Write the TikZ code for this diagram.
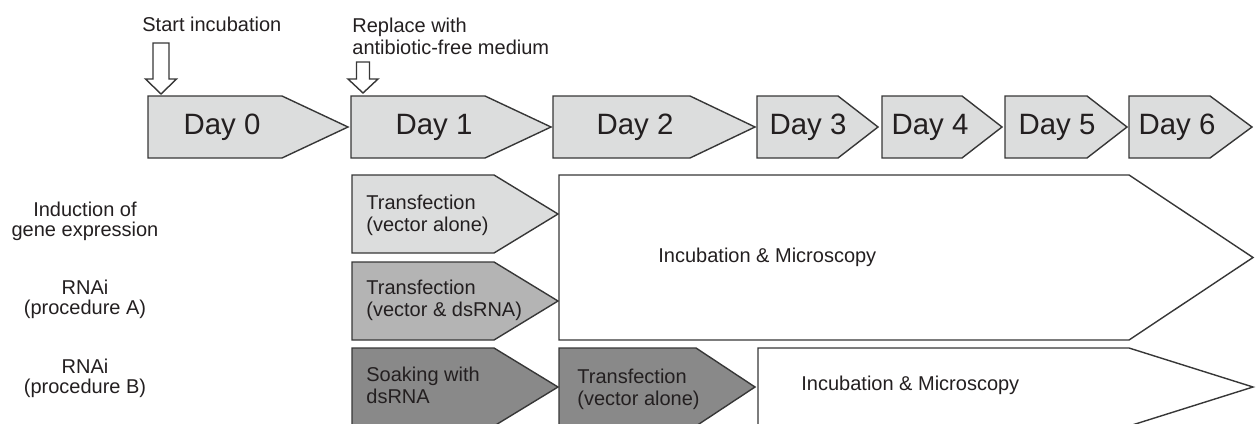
\documentclass[tikz,border=0pt]{standalone}
\usepackage{fontspec}
\setmainfont{Liberation Sans}
\usepackage{xcolor}
\usepackage{tikz}
\usetikzlibrary{positioning}

\definecolor{daygray}{RGB}{220,221,221}
\definecolor{midgray}{RGB}{180,180,180}
\definecolor{soakgray}{RGB}{137,137,137}
\definecolor{edgegray}{RGB}{55,55,55}
\definecolor{inkgray}{RGB}{35,31,32}

\tikzset{
  stepbox/.style={draw=edgegray, line width=0.7pt, line join=miter},
  daytext/.style={font=\fontsize{14.7}{17}\selectfont, text=inkgray, inner sep=0pt},
  boxtext/.style={font=\fontsize{10}{11}\selectfont, text=inkgray, align=left, anchor=west, inner sep=0pt},
  rowlabel/.style={font=\fontsize{10}{10}\selectfont, text=inkgray, align=center, inner sep=0pt},
}

% left x, flat end x, tip x, top y, bottom y, fill
\newcommand{\pentabox}[6]{%
  \draw[stepbox, fill=#6] (#1,#4) -- (#2,#4) -- (#3,{(#4+#5)/2}) -- (#2,#5) -- (#1,#5) -- cycle;}

\begin{document}
\begin{tikzpicture}[x=0.5pt, y=-0.5pt]
        \useasboundingbox (0,0) rectangle (1258,423);
        \clip (0,0) rectangle (1258,423);

        % time line
        \foreach \n/\xa/\xb/\xc/\tx in {0/148/282/348/222, 1/351/485/551/434, 2/553/690/755/635,
                3/757/838/878/808, 4/882/962/1002/930, 5/1005/1087/1127/1057, 6/1129/1210/1252/1177}{
            \pentabox{\xa}{\xb}{\xc}{96}{158}{daygray}
            \node[daytext] (day\n) at (\tx,127) {Day \n};
        }

        % hollow arrows
        \draw[stepbox, fill=white] (153,43) -- (169,43) -- (169,79) -- (176.5,79) -- (161,94) -- (145.5,79) -- (153,79) -- cycle;
        \draw[stepbox, fill=white] (356.5,62) -- (369.5,62) -- (369.5,79) -- (378,79) -- (363,93) -- (348,79) -- (356.5,79) -- cycle;
        \node[boxtext] (start) at (142,24) {Start incubation};
        \node[boxtext] (replace) at (352,36) {Replace with\\antibiotic-free medium};

        % rows
        \pentabox{352}{494}{558}{175}{253}{daygray}
        \pentabox{352}{494}{558}{262}{340}{midgray}
        \pentabox{559}{1129}{1253}{175}{340}{white}
        \pentabox{352}{494}{558}{348}{426}{soakgray}
        \pentabox{559}{696}{755}{348}{426}{soakgray}
        \pentabox{758}{1129}{1253}{348}{426}{white}

        \node[boxtext] (vecalone) at (366,215) {Transfection\\(vector alone)};
        \node[boxtext] (vecds) at (366,300) {Transfection\\(vector \& dsRNA)};
        \node[boxtext] (soak) at (366,385) {Soaking with\\dsRNA};
        \node[boxtext] (vecalonetwo) at (577,389) {Transfection\\(vector alone)};
        \node[boxtext] (incub) at (658,257) {Incubation \& Microscopy};
        \node[boxtext] (incubtwo) at (801,385) {Incubation \& Microscopy};

        \node[rowlabel] (induction) at (85,221) {Induction of\\gene expression};
        \node[rowlabel] (rnaia) at (85,299) {RNAi\\(procedure A)};
        \node[rowlabel] (rnaib) at (85,378) {RNAi\\(procedure B)};
    \end{tikzpicture}
\end{document}
